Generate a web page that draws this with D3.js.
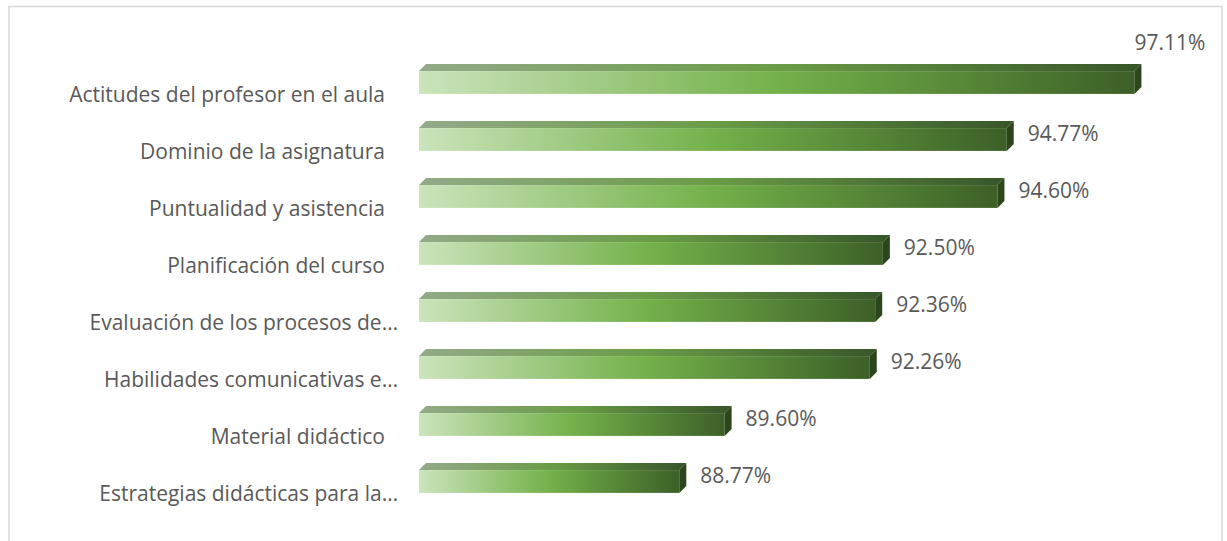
<!DOCTYPE html>
<html>
<head>
<meta charset="utf-8">
<script src="https://cdn.jsdelivr.net/npm/d3@7"></script>
<style>
  body { margin: 0; background: #fff; }
  svg { display: block; }
</style>
</head>
<body>
<div class="container"></div>
<script>
const categories = [
  'Actitudes del profesor en el aula',
  'Dominio de la asignatura',
  'Puntualidad y asistencia',
  'Planificación del curso',
  'Evaluación de los procesos de…',
  'Habilidades comunicativas e…',
  'Material didáctico',
  'Estrategias didácticas para la…'
];
const values = [97.11, 94.77, 94.6, 92.5, 92.36, 92.26, 89.6, 88.77];
const valueLabels = ['97.11%', '94.77%', '94.60%', '92.50%', '92.36%', '92.26%', '89.60%', '88.77%'];
const axisDomain = [84, 98];

const renderChart = () => {
  const width = 1227;
  const height = 541;
  const depthX = 7;
  const depthY = 7;
  const textColor = '#595959';
  const font = '"Open Sans", "Noto Sans", sans-serif';

  const svg = d3.select('.container').append('svg').attr('width', width).attr('height', height);

  // chart border (bottom runs off the picture)
  svg
    .append('rect')
    .attr('x', 9)
    .attr('y', 6.5)
    .attr('width', 1213)
    .attr('height', 600)
    .attr('fill', 'none')
    .attr('stroke', '#d9d9d9')
    .attr('stroke-width', 1.5);

  const defs = svg.append('defs');
  const addGradient = (id, stops) => {
    const g = defs.append('linearGradient').attr('id', id).attr('x1', 0).attr('x2', 1).attr('y1', 0).attr('y2', 0);
    stops.forEach(([o, c]) => g.append('stop').attr('offset', o).attr('stop-color', c));
  };
  addGradient('front', [[0, '#cbe4bc'], [0.5, '#74b14a'], [1, '#3c6027']]);
  addGradient('top', [[0, '#93aa88'], [0.5, '#6a9c47'], [1, '#37562a']]);

  const xScale = d3.scaleLinear().domain(axisDomain).range([419, 1183]);
  const yScale = d3.scaleBand().domain(categories).range([54, 510]).paddingInner(0.6).paddingOuter(0.3);

  const data = categories.map((c, i) => ({ name: c, value: values[i], label: valueLabels[i] }));

  const bars = svg.append('g').attr('class', 'bars').selectAll('g').data(data).enter().append('g');

  const x0 = xScale(axisDomain[0]);

  bars
    .append('path')
    .attr('fill', 'url(#top)')
    .attr('d', d => {
      const x1 = xScale(d.value);
      const y = yScale(d.name);
      return `M${x0},${y}L${x0 + depthX},${y - depthY}L${x1 + depthX},${y - depthY}L${x1},${y}Z`;
    });

  bars
    .append('rect')
    .attr('x', x0)
    .attr('y', d => yScale(d.name))
    .attr('width', d => xScale(d.value) - x0)
    .attr('height', yScale.bandwidth())
    .attr('fill', 'url(#front)');

  bars
    .append('path')
    .attr('fill', '#2c461c')
    .attr('d', d => {
      const x1 = xScale(d.value);
      const y = yScale(d.name);
      const yb = y + yScale.bandwidth();
      return `M${x1},${y}L${x1 + depthX},${y - depthY}L${x1 + depthX},${yb - depthY}L${x1},${yb}Z`;
    });

  // value labels
  bars
    .append('text')
    .attr('font-family', font)
    .attr('font-size', 21)
    .attr('fill', textColor)
    .text(d => d.label)
    .each(function (d) {
      const t = d3.select(this);
      const w = this.getComputedTextLength();
      const x1 = xScale(d.value);
      const y = yScale(d.name);
      if (x1 + 21 + w > 1212) {
        t.attr('x', x1).attr('y', y - 21);
      } else {
        t.attr('x', x1 + 21).attr('y', y + yScale.bandwidth() / 2 + 1);
      }
    });

  // category labels
  svg
    .append('g')
    .attr('class', 'categories')
    .selectAll('text')
    .data(data)
    .enter()
    .append('text')
    .attr('x', d => (d.name.endsWith('…') ? 398 : 385))
    .attr('y', d => yScale(d.name) + yScale.bandwidth() / 2 + 19)
    .attr('text-anchor', 'end')
    .attr('font-family', font)
    .attr('font-size', 21)
    .attr('fill', textColor)
    .text(d => d.name);
};

renderChart();
</script>
</body>
</html>
